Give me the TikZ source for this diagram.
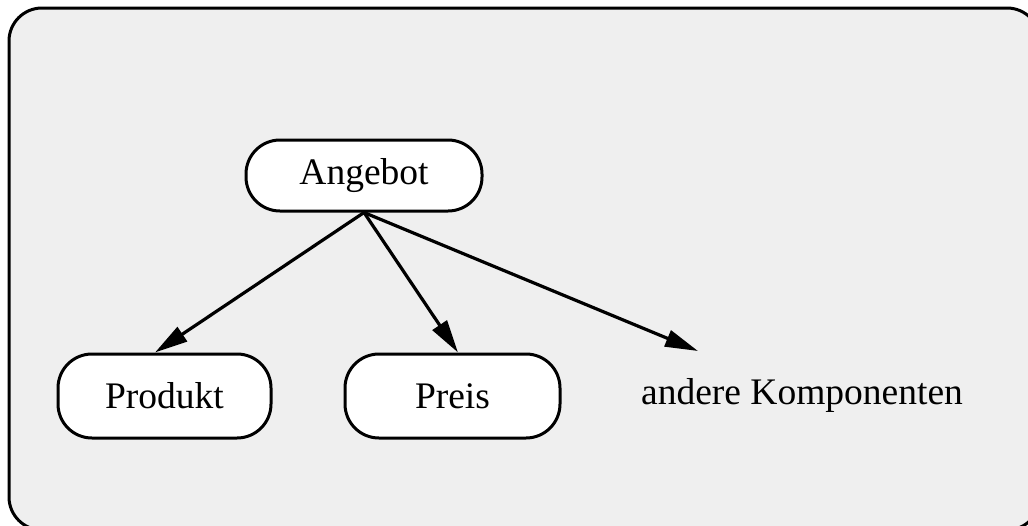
\documentclass[tikz,border=0pt]{standalone}
\usepackage{fontspec}
\setmainfont{Liberation Serif}
\usetikzlibrary{arrows.meta}
\usetikzlibrary{calc}
\definecolor{panel}{HTML}{EFEFEF}

\begin{document}
\begin{tikzpicture}[x=1pt, y=-1pt,
    box/.style={draw, line width=3pt, fill=white, rounded corners=34pt, inner sep=0pt},
    link/.style={line width=3.2pt, -{Triangle[length=33pt, width=17pt]}},
    every node/.style={font=\fontsize{37.5}{44}\selectfont}]
    \useasboundingbox (0,0) rectangle (1028,525);

    % The grey panel
        \draw[fill=panel, line width=3pt, rounded corners=33pt] (9,8) rectangle (1040,530);

    % The components
        \node[box, minimum width=236pt, minimum height=71pt] (angebot) at (364,175.5) {Angebot};
        \node[box, minimum width=213pt, minimum height=84pt] (produkt) at (164.5,396) {Produkt};
        \node[box, minimum width=215pt, minimum height=84pt] (preis) at (452.5,396) {Preis};
        \node[anchor=base] (andere) at (802,404) {andere Komponenten};
        \coordinate (andere-in) at (698,351);

    % Arrows
        \draw[link] (angebot.south) -- ([xshift=-9.5pt]produkt.north);
        \draw[link] (angebot.south) -- ([xshift=5.5pt]preis.north);
        \draw[link] (angebot.south) -- (andere-in);
\end{tikzpicture}
\end{document}
